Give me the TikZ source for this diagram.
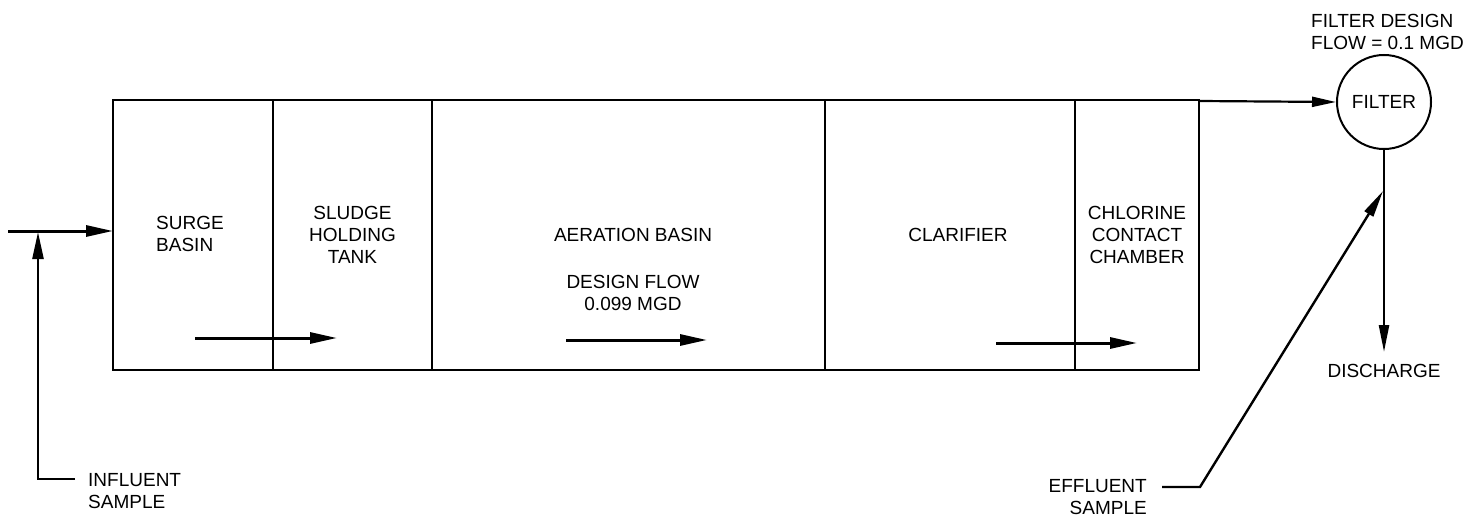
\documentclass[tikz,border=0pt]{standalone}
\usepackage{fontspec}
\setmainfont{Liberation Sans}
\usetikzlibrary{arrows.meta}
\begin{document}
\begin{tikzpicture}[x=1pt,y=-1pt,
  lbl/.style={font=\fontsize{19}{22}\selectfont, inner sep=0pt, align=center},
  tank/.style={draw, line width=2pt, inner sep=0pt, outer sep=0pt, minimum height=270pt,
     font=\fontsize{19}{22}\selectfont, align=center},
  pipe/.style={line width=2.4pt},
  flow/.style={line width=3pt, -{Triangle[length=27pt,width=11pt]}},
  thin flow/.style={line width=2.2pt, -{Triangle[length=24pt,width=10pt]}}]
\useasboundingbox (0,0) rectangle (1481,519);
% compartments
\node[tank, minimum width=160pt] (surge) at (193,235) {};
\node[lbl, align=left] (surgetxt) at (190,234) {SURGE\\BASIN};
\node[tank, minimum width=159pt] (sludge) at (352.5,235) {SLUDGE\\HOLDING\\TANK};
\node[tank, minimum width=393pt] (aer) at (628.5,235) {};
\node[lbl] (aertxt) at (633,235) {AERATION BASIN};
\node[lbl] (designtxt) at (633,293) {DESIGN FLOW\\0.099 MGD};
\node[tank, minimum width=250pt] (clar) at (950,235) {\hspace*{16pt}CLARIFIER};
\node[tank, minimum width=124pt] (chlor) at (1137,235) {CHLORINE\\CONTACT\\CHAMBER};
% filter
\node[draw, circle, line width=2pt, minimum size=94pt, inner sep=0pt, font=\fontsize{19}{22}\selectfont] (filter) at (1384,102) {FILTER};
\node[lbl, align=left, anchor=west] (fdesign) at (1311,32) {FILTER DESIGN\\FLOW = 0.1 MGD};
\draw[thin flow] (chlor.north east) ++(0,1) -- (filter.west);
% internal flow arrows
\coordinate (a1s) at (195,338); \coordinate (a1e) at (337,338);
\coordinate (a2s) at (566,340); \coordinate (a2e) at (707,340);
\coordinate (a3s) at (996,343); \coordinate (a3e) at (1137,343);
\draw[flow] (a1s) -- (a1e);
\draw[flow] (a2s) -- (a2e);
\draw[flow] (a3s) -- (a3e);
% influent
\coordinate (in0) at (8,231);
\coordinate (inC) at (38,479);
\coordinate (inE) at (75,479);
\coordinate (inT) at (38,232);
\draw[flow] (in0) -- (in0 -| surge.west);
\draw[pipe, -{Triangle[length=27pt,width=11pt]}] (inE) -- (inC) -- (inT);
\node[lbl, align=left, anchor=west] (influent) at (88,491) {INFLUENT\\SAMPLE};
% discharge
\coordinate (dis) at (1384,352);
\draw[pipe, -{Triangle[length=27pt,width=10pt]}] (filter.south) -- (dis);
\node[lbl] (discharge) at (1384,371) {DISCHARGE};
% effluent sample
\coordinate (efE) at (1162,487);
\coordinate (efC) at (1200,487);
\coordinate (efT) at (1383,191);
\draw[pipe, -{Triangle[length=27pt,width=10pt]}] (efE) -- (efC) -- (efT);
\node[lbl, align=right, anchor=east] (effluent) at (1147,497) {EFFLUENT\\SAMPLE};
\end{tikzpicture}
\end{document}
